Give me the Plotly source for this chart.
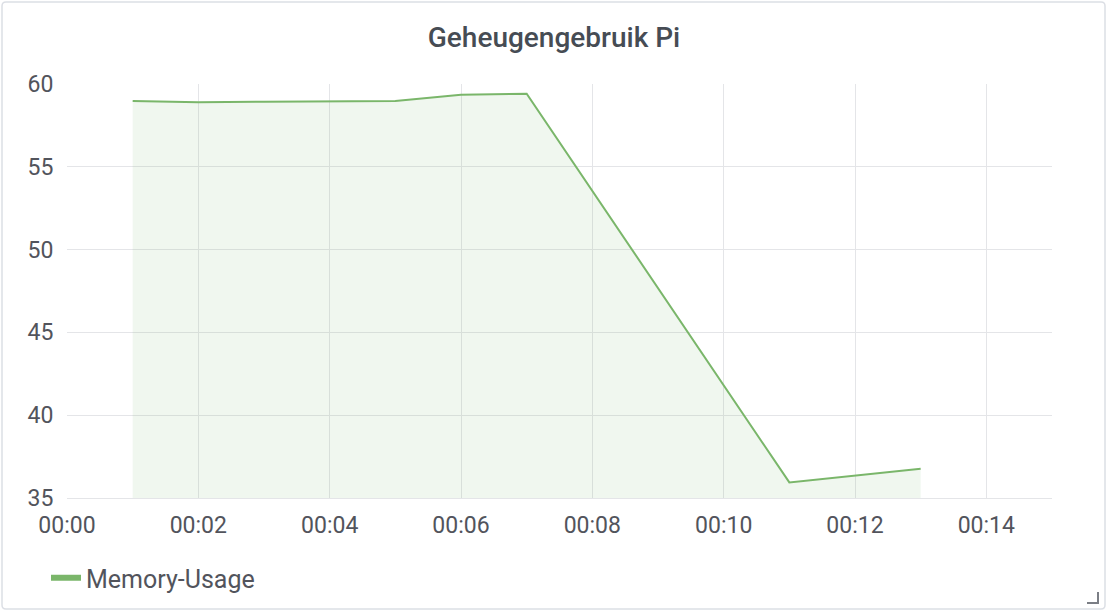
import plotly.graph_objects as go

times = ["2024-01-01 00:01", "2024-01-01 00:02", "2024-01-01 00:03", "2024-01-01 00:04",
         "2024-01-01 00:05", "2024-01-01 00:06", "2024-01-01 00:07",
         "2024-01-01 00:11", "2024-01-01 00:13"]
memory_usage = [58.97, 58.90, 58.93, 58.95, 58.97, 59.35, 59.41, 35.94, 36.77]
series_name = "Memory-Usage"
title_text = "Geheugengebruik Pi"
x_ticks = ["2024-01-01 00:00", "2024-01-01 00:02", "2024-01-01 00:04", "2024-01-01 00:06",
           "2024-01-01 00:08", "2024-01-01 00:10", "2024-01-01 00:12", "2024-01-01 00:14"]
x_tick_labels = ["00:00", "00:02", "00:04", "00:06", "00:08", "00:10", "00:12", "00:14"]
y_ticks = [35, 40, 45, 50, 55, 60]

GREEN = "#7ab66a"
GRID = "#e4e5e8"
TEXT = "#52545c"

W, H = 1108, 612
L, T, R, B = 67, 84, 56, 114
PW, PH = W - L - R, H - T - B


def px_x(p):
    return (p - L) / PW


def px_y(p):
    return (H - B - p) / PH


# rounded panel border path (paper coordinates)
bx0, bx1, by0, by1, rad = 2, 1105, 2, 609, 4
border_path = (
    f"M {px_x(bx0 + rad)},{px_y(by0)} L {px_x(bx1 - rad)},{px_y(by0)} "
    f"Q {px_x(bx1)},{px_y(by0)} {px_x(bx1)},{px_y(by0 + rad)} "
    f"L {px_x(bx1)},{px_y(by1 - rad)} "
    f"Q {px_x(bx1)},{px_y(by1)} {px_x(bx1 - rad)},{px_y(by1)} "
    f"L {px_x(bx0 + rad)},{px_y(by1)} "
    f"Q {px_x(bx0)},{px_y(by1)} {px_x(bx0)},{px_y(by1 - rad)} "
    f"L {px_x(bx0)},{px_y(by0 + rad)} "
    f"Q {px_x(bx0)},{px_y(by0)} {px_x(bx0 + rad)},{px_y(by0)} Z"
)
handle_path = (
    f"M {px_x(1098)},{px_y(592)} L {px_x(1098)},{px_y(603)} L {px_x(1087)},{px_y(603)}"
)

fig = go.Figure()
fig.add_trace(go.Scatter(
    x=times, y=memory_usage, mode="lines", name=series_name,
    line=dict(color=GREEN, width=2), fill="tozeroy",
    fillcolor="rgba(122,182,106,0.11)", showlegend=False, hoverinfo="x+y",
))
# legend entry (thick bar like Grafana)
fig.add_trace(go.Scatter(
    x=[None], y=[None], mode="lines", name=series_name,
    line=dict(color=GREEN, width=6), showlegend=True,
))

fig.update_layout(
    width=W, height=H,
    margin=dict(l=L, r=R, t=T, b=B),
    paper_bgcolor="white", plot_bgcolor="white",
    font=dict(family="Roboto, 'Open Sans', sans-serif", color=TEXT, size=23),
    title=dict(text=title_text, x=0.5, xanchor="center", xref="container",
               y=1 - 37 / H, yanchor="middle", yref="container",
               font=dict(size=28, color="#464c54", family="Roboto, sans-serif", weight=500)),
    xaxis=dict(
        type="date", range=["2024-01-01 00:00", "2024-01-01 00:15"],
        tickvals=x_ticks, ticktext=x_tick_labels,
        showgrid=True, gridcolor=GRID, gridwidth=1,
        showline=True, linecolor=GRID, linewidth=1,
        zeroline=False, ticks="outside", ticklen=6, tickcolor="rgba(0,0,0,0)",
        tickfont=dict(size=23, color=TEXT),
    ),
    yaxis=dict(
        range=[35, 60], tickvals=y_ticks,
        showgrid=True, gridcolor=GRID, gridwidth=1,
        showline=False, zeroline=False, ticks="outside", ticklen=8, tickcolor="rgba(0,0,0,0)",
        tickfont=dict(size=23, color=TEXT),
    ),
    legend=dict(orientation="h", x=(87 - 41) / W, xanchor="left", xref="container",
                y=(H - 578) / H, yanchor="middle", yref="container",
                font=dict(size=25, color=TEXT), bgcolor="rgba(0,0,0,0)"),
    showlegend=True,
    shapes=[
        dict(type="path", xref="paper", yref="paper", path=border_path,
             line=dict(color="#dcdfe5", width=1.5), layer="below"),
        dict(type="path", xref="paper", yref="paper", path=handle_path,
             line=dict(color="#7b7e85", width=2)),
    ],
)

fig.write_html("out.html", config={"displayModeBar": False},
               post_script="document.body.style.margin='0';document.body.style.overflow='hidden';")
